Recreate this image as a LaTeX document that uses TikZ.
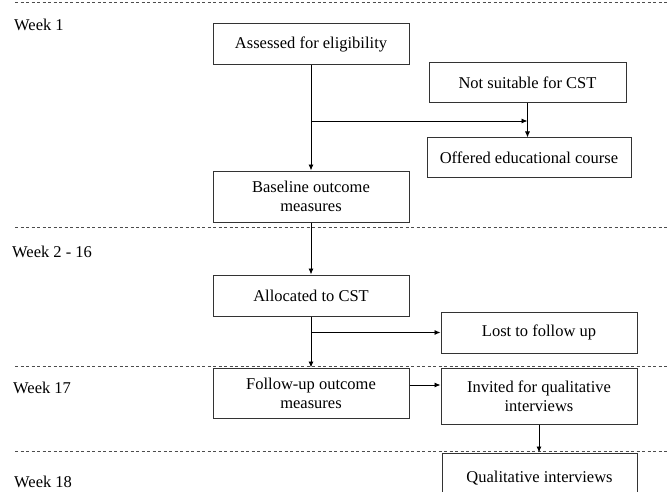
\documentclass[tikz,border=0pt]{standalone}
\usepackage{fontspec}
\setmainfont{Liberation Serif}
\usetikzlibrary{arrows.meta}

\begin{document}
\begin{tikzpicture}
  [x=1pt,y=-1pt,>={Latex[length=6pt,width=5pt]},
box/.style={draw=black!80,line width=1pt,align=center,inner sep=0pt,
  minimum width=196pt,minimum height=41pt,font=\fontsize{16.5}{19}\selectfont},
week/.style={anchor=west,inner sep=0pt,font=\fontsize{16.5}{19}\selectfont},
period/.style={draw=black!70,line width=0.8pt,dash pattern=on 3pt off 2.5pt},
arrow/.style={->,line width=0.9pt}]

\clip (0,0) rectangle (669,492);

% time periods
\foreach \y in {2,227,366,451}
  \draw [period] (15,\y) -- (669,\y);

\node [week] (w1)  at (14,25)  {Week 1};
\node [week] (w2)  at (12,252) {Week 2 - 16};
\node [week] (w17) at (13,388) {Week 17};
\node [week] (w18) at (14,482) {Week 18};

% boxes
\node [box] (assess) at (311,44.5) {Assessed for eligibility};
\node [box,minimum width=197pt,minimum height=40pt] (notsuit) at (527.5,83) {Not suitable for CST};
\node [box,minimum width=204pt,minimum height=39pt] (offered) at (529,157.5) {Offered educational course};
\node [box,minimum height=51pt] (baseline) at (311,196.5) {Baseline outcome\\measures};
\node [box] (alloc) at (311,295.5) {Allocated to CST};
\node [box] (lost) at (539,332.5) {Lost to follow up};
\node [box,minimum height=50pt] (followup) at (311,393) {Follow-up outcome\\measures};
\node [box,minimum height=56pt] (invited) at (539,396) {Invited for qualitative\\interviews};
\node [box,minimum width=195pt,minimum height=50pt] (qual) at (539.5,478) {Qualitative interviews};

\coordinate (split1) at (311,121);
\coordinate (join1) at (527.5,121);

% arrows
\draw [arrow] (assess) -- (baseline);
\draw [arrow] (split1) -- (join1);
\draw [arrow] (notsuit.south) -- (notsuit.south |- offered.north);
\draw [arrow] (baseline) -- (alloc);
\draw [arrow] (alloc) -- (followup);
\draw [arrow] (alloc.south |- lost.west) -- (lost.west);
\draw [arrow] ([yshift=8pt]followup.east) -- ([yshift=8pt]followup.east -| invited.west);
\draw [arrow] (invited.south) -- (invited.south |- qual.north);

\end{tikzpicture}
\end{document}
